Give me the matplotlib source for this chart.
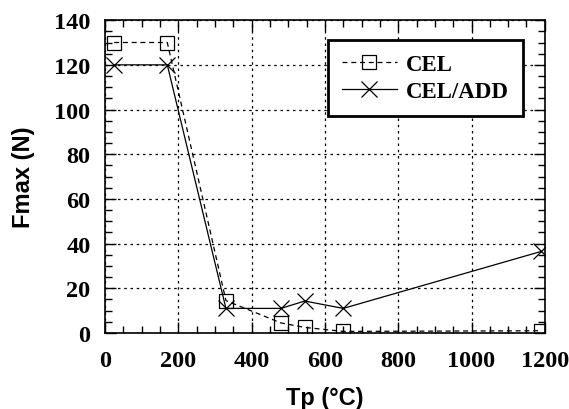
import matplotlib.pyplot as plt
from matplotlib.ticker import MultipleLocator

# Fmax vs Tp
tp_cel = [25, 170, 330, 480, 545, 650, 1190]
f_cel = [130, 130, 14.5, 4.5, 2.5, 0.7, 1]
tp_add = [25, 170, 330, 480, 545, 650, 1190]
f_add = [120, 120, 11, 11, 14.3, 11, 36.5]

fig = plt.figure(figsize=(5.69, 4.10), dpi=100)
ax = fig.add_axes([0.1845, 0.1854, 0.773, 0.763])

ax.plot(tp_cel, f_cel, color='black', linestyle=(0, (4, 3)), linewidth=0.9,
        marker='s', markersize=9.5, markerfacecolor='none', markeredgewidth=0.9,
        label='CEL')
ax.plot(tp_add, f_add, color='black', linestyle='-', linewidth=0.9,
        marker='x', markersize=11, markeredgewidth=0.9, label='CEL/ADD')

ax.set_xlim(0, 1200)
ax.set_ylim(0, 140)
ax.xaxis.set_major_locator(MultipleLocator(200))
ax.xaxis.set_minor_locator(MultipleLocator(50))
ax.yaxis.set_major_locator(MultipleLocator(20))
ax.yaxis.set_minor_locator(MultipleLocator(5))
ax.tick_params(which='both', direction='in', top=True, right=True, color='black')
ax.tick_params(which='major', length=8, width=1)
ax.tick_params(which='minor', length=5, width=1)
ax.tick_params(axis='y', labelsize=17.5, pad=10.5)
ax.tick_params(axis='x', labelsize=17.5, pad=12)
for lab in ax.get_xticklabels() + ax.get_yticklabels():
    lab.set_family('Liberation Serif')
    lab.set_fontweight('bold')

ax.grid(True, which='major', color='black', linestyle=(0, (2, 3)), linewidth=0.9)
for s in ax.spines.values():
    s.set_linewidth(1.2)

ax.set_xlabel('Tp (°C)', fontsize=17, fontweight='bold', family='Liberation Sans', labelpad=11)
ax.set_ylabel('Fmax (N)', fontsize=17, fontweight='bold', family='Liberation Sans', labelpad=14)

leg = ax.legend(loc='upper right', bbox_to_anchor=(0.95, 0.936), fancybox=False,
                framealpha=1, edgecolor='black', handlelength=2.4,
                prop={'family': 'Liberation Serif', 'weight': 'bold', 'size': 16.5},
                borderpad=0.6, labelspacing=0.28, handletextpad=0.4,
                borderaxespad=0)
leg.get_frame().set_linewidth(2)

fig.savefig('out.png', dpi=100)
